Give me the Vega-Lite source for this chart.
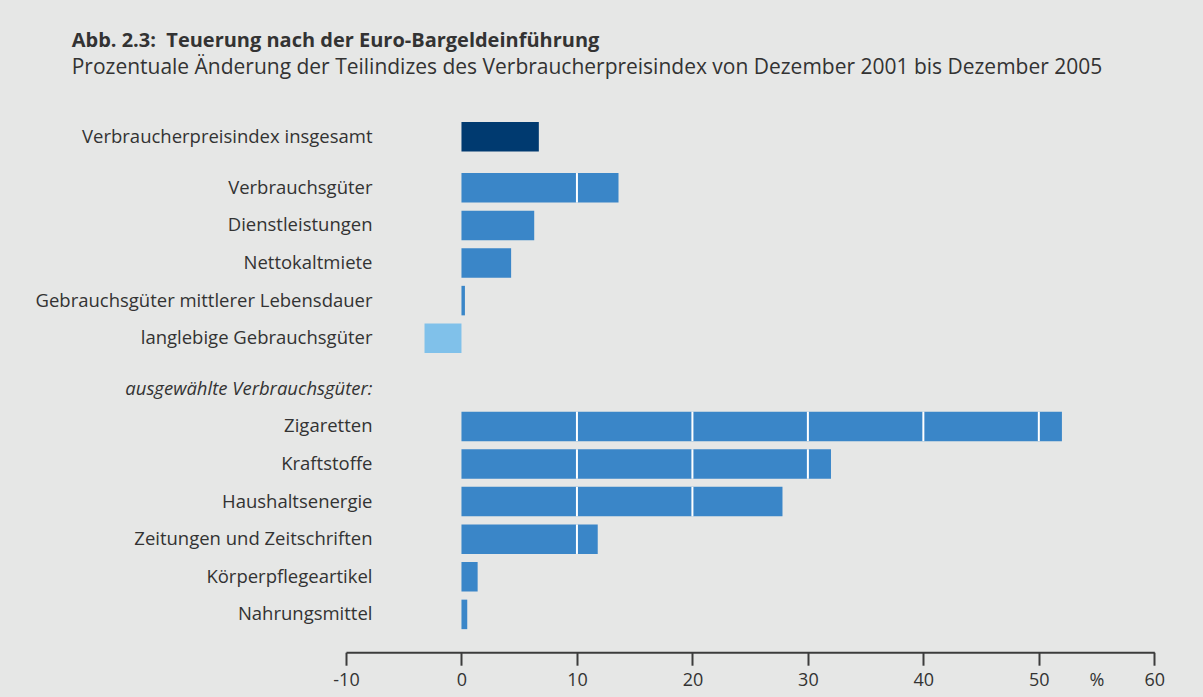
{
  "$schema": "https://vega.github.io/schema/vega-lite/v6.json",
  "background": "#e6e7e6",
  "padding": {"left": 34, "top": 31, "right": 40, "bottom": 7},
  "title": {
    "text": "Abb. 2.3:\u00a0 Teuerung nach der Euro-Bargeldeinführung",
    "subtitle": "Prozentuale Änderung der Teilindizes des Verbraucherpreisindex von Dezember 2001 bis Dezember 2005",
    "anchor": "start",
    "frame": "bounds",
    "font": "Open Sans",
    "fontSize": 20,
    "fontWeight": "bold",
    "color": "#333333",
    "subtitleFont": "Open Sans",
    "subtitleFontSize": 21,
    "subtitleColor": "#333333",
    "subtitlePadding": 6,
    "offset": 40,
    "dx": 37
  },
  "datasets": {
    "gesamt": [
      {"kategorie": "Verbraucherpreisindex insgesamt", "prozent": 6.7}
    ],
    "teilindizes": [
      {"kategorie": "Verbrauchsgüter", "prozent": 13.6},
      {"kategorie": "Dienstleistungen", "prozent": 6.3},
      {"kategorie": "Nettokaltmiete", "prozent": 4.3},
      {"kategorie": "Gebrauchsgüter mittlerer Lebensdauer", "prozent": 0.3},
      {"kategorie": "langlebige Gebrauchsgüter", "prozent": -3.2}
    ],
    "teilindizes_linien": [
      {"kategorie": "Verbrauchsgüter", "prozent": 10}
    ],
    "ausgewaehlt": [
      {"kategorie": "Zigaretten", "prozent": 52.0},
      {"kategorie": "Kraftstoffe", "prozent": 32.0},
      {"kategorie": "Haushaltsenergie", "prozent": 27.8},
      {"kategorie": "Zeitungen und Zeitschriften", "prozent": 11.8},
      {"kategorie": "Körperpflegeartikel", "prozent": 1.4},
      {"kategorie": "Nahrungsmittel", "prozent": 0.5}
    ],
    "ausgewaehlt_linien": [
      {"kategorie": "Zigaretten", "prozent": 10},
      {"kategorie": "Zigaretten", "prozent": 20},
      {"kategorie": "Zigaretten", "prozent": 30},
      {"kategorie": "Zigaretten", "prozent": 40},
      {"kategorie": "Zigaretten", "prozent": 50},
      {"kategorie": "Kraftstoffe", "prozent": 10},
      {"kategorie": "Kraftstoffe", "prozent": 20},
      {"kategorie": "Kraftstoffe", "prozent": 30},
      {"kategorie": "Haushaltsenergie", "prozent": 10},
      {"kategorie": "Haushaltsenergie", "prozent": 20},
      {"kategorie": "Zeitungen und Zeitschriften", "prozent": 10}
    ]
  },
  "spacing": 13,
  "resolve": {"scale": {"y": "independent", "x": "shared"}},
  "vconcat": [
    {
      "width": 808.3,
      "height": {"step": 37.6},
      "data": {"name": "gesamt"},
      "mark": {"type": "bar", "color": "#003a70"},
      "encoding": {
        "x": {"field": "prozent", "type": "quantitative", "scale": {"domain": [-10, 60], "nice": false, "zero": false}, "axis": null},
        "y": {
          "field": "kategorie", "type": "nominal", "sort": null,
          "scale": {"paddingInner": 0.215, "paddingOuter": 0.1075},
          "axis": {"title": null, "domain": false, "ticks": false, "offset": -30, "labelPadding": 4, "labelLimit": 450}
        }
      }
    },
    {
      "width": 808.3,
      "height": {"step": 37.6},
      "encoding": {
        "x": {"field": "prozent", "type": "quantitative", "scale": {"domain": [-10, 60], "nice": false, "zero": false}, "axis": null},
        "y": {
          "field": "kategorie", "type": "nominal", "sort": null,
          "scale": {"domain": ["Verbrauchsgüter", "Dienstleistungen", "Nettokaltmiete", "Gebrauchsgüter mittlerer Lebensdauer", "langlebige Gebrauchsgüter"], "paddingInner": 0.215, "paddingOuter": 0.1075},
          "axis": {"title": null, "domain": false, "ticks": false, "offset": -30, "labelPadding": 4, "labelLimit": 450}
        }
      },
      "layer": [
        {
          "data": {"name": "teilindizes"},
          "mark": {"type": "bar"},
          "encoding": {
            "color": {"condition": {"test": "datum.prozent < 0", "value": "#80c1ea"}, "value": "#3a86c8"}
          }
        },
        {
          "data": {"name": "teilindizes_linien"},
          "mark": {"type": "tick", "color": "#ffffff", "thickness": 2, "size": 29.5, "opacity": 1}
        }
      ]
    },
    {
      "width": 808.3,
      "height": {"step": 37.6},
      "encoding": {
        "x": {
          "field": "prozent", "type": "quantitative",
          "scale": {"domain": [-10, 60], "nice": false, "zero": false},
          "axis": {
            "title": null,
            "grid": false,
            "values": [-10, 0, 10, 20, 30, 40, 50, 55, 60],
            "labelExpr": "datum.value == 55 ? '%' : '' + datum.value",
            "tickOpacity": {"condition": {"test": "datum.value == 55", "value": 0}, "value": 1},
            "offset": 19,
            "domainColor": "#3c3c3c",
            "domainWidth": 2,
            "tickColor": "#3c3c3c",
            "tickWidth": 2,
            "tickSize": 13,
            "labelPadding": 6,
            "labelFontSize": 18,
            "labelFlush": false
          }
        },
        "y": {
          "field": "kategorie", "type": "nominal", "sort": null,
          "scale": {"domain": ["ausgewählte Verbrauchsgüter:", "Zigaretten", "Kraftstoffe", "Haushaltsenergie", "Zeitungen und Zeitschriften", "Körperpflegeartikel", "Nahrungsmittel"], "paddingInner": 0.215, "paddingOuter": 0.1075},
          "axis": {
            "title": null, "domain": false, "ticks": false, "offset": -30, "labelPadding": 4, "labelLimit": 450,
            "labelFontStyle": {"condition": {"test": "datum.value == 'ausgewählte Verbrauchsgüter:'", "value": "italic"}, "value": "normal"}
          }
        }
      },
      "layer": [
        {
          "data": {"name": "ausgewaehlt"},
          "mark": {"type": "bar", "color": "#3a86c8"}
        },
        {
          "data": {"name": "ausgewaehlt_linien"},
          "mark": {"type": "tick", "color": "#ffffff", "thickness": 2, "size": 29.5, "opacity": 1}
        }
      ]
    }
  ],
  "config": {
    "view": {"stroke": null},
    "font": "Open Sans",
    "axis": {
      "labelFont": "Open Sans",
      "labelFontSize": 18.5,
      "labelColor": "#333333",
      "grid": false
    }
  }
}
